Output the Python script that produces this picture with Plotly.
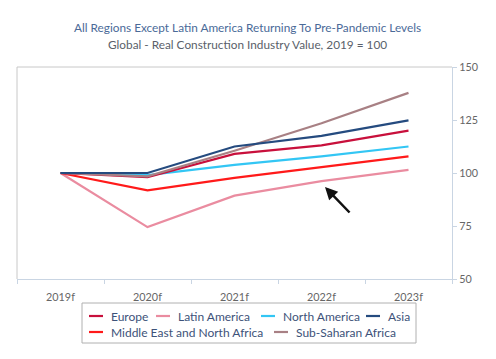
import plotly.graph_objects as go

years = ["2019f", "2020f", "2021f", "2022f", "2023f"]
europe = [100, 98, 109, 113, 120]
latin_america = [100, 74.5, 89.3, 96.2, 101.5]
north_america = [100, 99, 103.8, 107.8, 112.5]
asia = [100, 100, 112.5, 117.5, 124.8]
mena = [100, 91.8, 97.7, 102.8, 107.8]
ssa = [100, 98.4, 110.5, 123.5, 137.8]
y_ticks = [50, 75, 100, 125, 150]

names = ["Europe", "Latin America", "North America", "Asia",
         "Middle East and North Africa", "Sub-Saharan Africa"]
series = [europe, latin_america, north_america, asia, mena, ssa]
colors = ["#c8103c", "#ea8ca0", "#33c6f4", "#254b7f", "#ff1a1a", "#a88084"]

W, H = 496, 359
OFF = 8  # page offset of the figure
L, R, T, B = 17, 452, 67, 279  # plot area in page pixels

def px(x):
    return (x - L) / (R - L)

def py(y):
    return (B - y) / (B - T)

fig = go.Figure()
draw_order = [1, 4, 2, 0, 5, 3]
for i in draw_order:
    fig.add_trace(go.Scatter(x=years, y=series[i], mode="lines", name=names[i],
                             line=dict(color=colors[i], width=2.2),
                             showlegend=False))

font = "Lato, 'Open Sans', sans-serif"
shapes = [
    dict(type="line", xref="paper", yref="paper", x0=0, x1=1, y0=1, y1=1,
         line=dict(color="#c8c8c8", width=1)),
    dict(type="line", xref="paper", yref="paper", x0=0, x1=0, y0=0, y1=1,
         line=dict(color="#c8c8c8", width=1)),
    dict(type="rect", xref="paper", yref="paper", x0=px(82), x1=px(416),
         y0=py(343), y1=py(303), line=dict(color="#b0b0b0", width=1),
         fillcolor="rgba(0,0,0,0)"),
]
annotations = [
    dict(text="All Regions Except Latin America Returning To Pre-Pandemic Levels",
         xref="paper", yref="paper", x=px(248), y=py(27), showarrow=False,
         font=dict(family=font, size=11.8, color="#4a6a98"), xanchor="center", yanchor="middle"),
    dict(text="Global - Real Construction Industry Value, 2019 = 100",
         xref="paper", yref="paper", x=px(248), y=py(44), showarrow=False,
         font=dict(family=font, size=11.8, color="#5a5f6a"), xanchor="center", yanchor="middle"),
    dict(x=px(325), y=py(187), ax=26, ay=27, xref="paper", yref="paper",
         axref="pixel", ayref="pixel", showarrow=True, arrowhead=2, arrowsize=1,
         arrowwidth=2.5, arrowcolor="#111111", text=""),
]

leg_pos = [(89, 316), (156, 316), (261, 316), (366, 316), (89, 332), (274, 332)]
for i, (lx, ly) in enumerate(leg_pos):
    shapes.append(dict(type="line", xref="paper", yref="paper", x0=px(lx), x1=px(lx + 14),
                       y0=py(ly), y1=py(ly), line=dict(color=colors[i], width=2.2)))
    annotations.append(dict(text=names[i], xref="paper", yref="paper", x=px(lx + 20), y=py(ly),
                            showarrow=False, xanchor="left", yanchor="middle",
                            font=dict(family=font, size=12, color="#3d5279")))

fig.update_layout(
    width=W, height=H,
    margin=dict(l=L - OFF, r=W + OFF - R, t=T - OFF, b=H + OFF - B),
    paper_bgcolor="white", plot_bgcolor="white",
    showlegend=False,
    shapes=shapes, annotations=annotations,
    xaxis=dict(type="category", showgrid=False, zeroline=False,
               showline=True, linecolor="#c9d5e3", linewidth=1,
               ticks="outside", tickson="boundaries", ticklen=4, tickcolor="#c9d5e3",
               ticklabelstandoff=8,
               tickfont=dict(family=font, size=10.8, color="#666666"),
               range=[-0.5, 4.5]),
    yaxis=dict(side="right", range=[50, 150], tickvals=y_ticks, showgrid=False,
               zeroline=False, showline=True, linecolor="#c9d5e3", linewidth=1,
               ticks="outside", ticklen=4, tickcolor="#c9d5e3",
               tickfont=dict(family=font, size=10.8, color="#666666")),
)

fig.write_html("out.html")
